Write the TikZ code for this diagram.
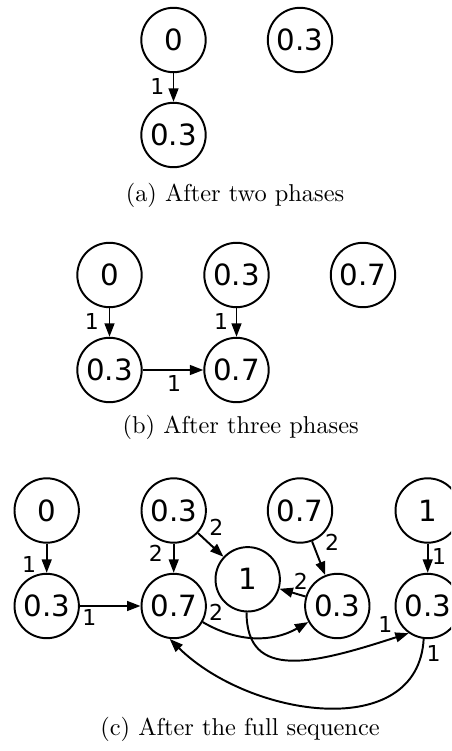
\documentclass[tikz,border=0pt]{standalone}
\usepackage{fontspec}
\usetikzlibrary{arrows.meta}
\newfontfamily\graphfont{DejaVu Sans}
\tikzset{
  vertex/.style={
    circle, draw, thick, minimum size=26.4pt, inner sep=0pt,
    font=\graphfont\fontsize{12}{13}\selectfont
  },
  weight/.style={inner sep=1pt, font=\graphfont\fontsize{9}{10}\selectfont},
  arc/.style={-{Triangle[length=5.5pt,width=4pt]}, thick},
  caption/.style={anchor=base, font=\fontsize{10}{12}\selectfont}
}
\begin{document}
\begin{tikzpicture}[x=0.41pt,y=-0.41pt]
  \useasboundingbox (0,0) rectangle (451,751);
  \clip (0,0) rectangle (451,751);
  % (a)
  \node[vertex] (a0) at (173.5,40) {0};
  \node[vertex] (a3) at (300,40) {0.3};
  \node[vertex] (a3b) at (173.5,135) {0.3};
  \draw[arc] (a0) -- node[weight,pos=0.45,left=2.4pt] {1} (a3b);
  \node[caption] (capa) at (235,201.7) {(a) After two phases};
  % (b)
  \node[vertex] (b0) at (109.5,275) {0};
  \node[vertex] (b3) at (236.5,275) {0.3};
  \node[vertex] (b7) at (363,275) {0.7};
  \node[vertex] (b3b) at (109.5,370) {0.3};
  \node[vertex] (b7b) at (236.5,370) {0.7};
  \draw[arc] (b0) -- node[weight,pos=0.475,left=3pt] {1} (b3b);
  \draw[arc] (b3) -- node[weight,pos=0.48,left=2.1pt] {1} (b7b);
  \draw[arc] (b3b) -- node[weight,pos=0.52,below=1pt] {1} (b7b);
  \node[caption] (capb) at (240.7,433) {(b) After three phases};
  % (c)
  \node[vertex] (c0) at (46.7,510.5) {0};
  \node[vertex] (c3) at (173.7,510.5) {0.3};
  \node[vertex] (c7) at (300,510.5) {0.7};
  \node[vertex] (c1) at (427.7,510.5) {1};
  \node[vertex] (d3) at (46.7,606) {0.3};
  \node[vertex] (d7) at (173.7,606) {0.7};
  \node[vertex] (m1) at (247.7,579.3) {1};
  \node[vertex] (d3b) at (337.3,606) {0.3};
  \node[vertex] (d3c) at (427.7,606) {0.3};
  \draw[arc] (c0) -- node[weight,pos=0.71,left=2.9pt] {1} (d3);
  \draw[arc] (d3) -- node[weight,pos=0.155,below=0.1pt] {1} (d7);
  \draw[arc] (c3) -- node[weight,pos=0.33,left=3.1pt] {2} (d7);
  \draw[arc] (c3) -- node[weight,pos=0.3,xshift=4.4pt,yshift=5.4pt] {2} (m1);
  \draw[arc] (c7) -- node[weight,pos=0.15,xshift=7.4pt,yshift=1.6pt] {2} (d3b);
  \draw[arc] (d3b) -- node[weight,pos=0.15,xshift=-0.3pt,yshift=5.7pt] {2} (m1);
  \draw[arc] (c1) -- node[weight,pos=0.45,right=0.4pt] {1} (d3c);
  \draw[arc] (d7.-29) .. controls (237.8,642.6) and (272.2,642.6) .. (d3b.-151)
    node[weight,pos=0.05,xshift=3.3pt,yshift=5.1pt] {2};
  \draw[arc] (m1.-92) .. controls (246.7,681) and (313.2,664.2) .. (d3c.235)
    node[weight,pos=0.95,xshift=-3.8pt,yshift=5.25pt] {1};
  \draw[arc] (d3c.-97) .. controls (418,742.8) and (249.8,717.8) .. (d7.-97)
    node[weight,pos=0.05,xshift=4.9pt] {1};
  \node[caption] (capc) at (240,735.7) {(c) After the full sequence};
\end{tikzpicture}
\end{document}
